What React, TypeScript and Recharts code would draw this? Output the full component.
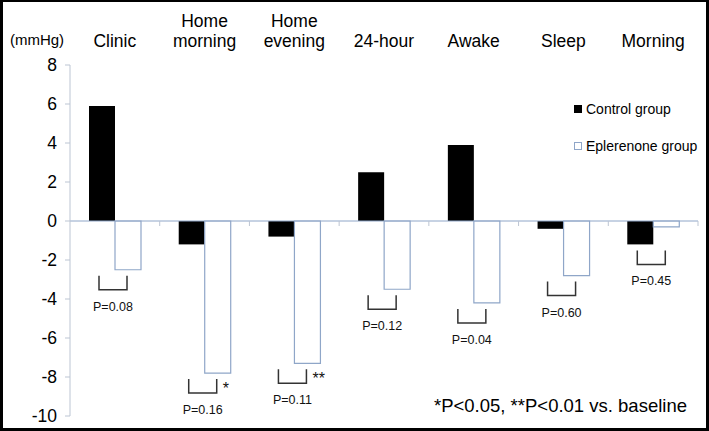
import { BarChart, Bar, XAxis, YAxis, ReferenceLine, Legend, LabelList } from "recharts";

// change from baseline, mmHg
const categories = ["Clinic", "Home morning", "Home evening", "24-hour", "Awake", "Sleep", "Morning"];
const controlChange = [5.9, -1.2, -0.8, 2.5, 3.9, -0.4, -1.2];
const eplerenoneChange = [-2.5, -7.8, -7.3, -3.5, -4.2, -2.8, -0.3];
const pValues = ["0.08", "0.16", "0.11", "0.12", "0.04", "0.60", "0.45"];
const vsBaseline = ["", "*", "**", "", "", "", ""];
const yTicks = [8, 6, 4, 2, 0, -2, -4, -6, -8, -10];

const data = categories.map((name, i) => ({
  name,
  control: controlChange[i],
  eplerenone: eplerenoneChange[i],
  p: pValues[i],
}));

const EP_STROKE = "#8fa6c8";
const AXIS = "#bcc5d3";

// multi-line category labels along the top
function CategoryTick(props: any) {
  const { x, payload } = props;
  const lines = String(payload.value).split(" ");
  return (
    <text x={x} textAnchor="middle" fontSize={17.5} fill="#000">
      {lines.map((ln, k) => (
        <tspan key={k} x={x} y={47 - (lines.length - 1 - k) * 20}>
          {ln}
        </tspan>
      ))}
    </text>
  );
}

function ValueTick(props: any) {
  const { x, y, payload } = props;
  return (
    <text x={x} y={y + 6} textAnchor="end" fontSize={17.5} fill="#000">
      {payload.value}
    </text>
  );
}

// zero line with small tick marks at category boundaries
function ZeroLine(props: any) {
  const { x1, x2, y1 } = props;
  const n = categories.length;
  const step = (x2 - x1) / n;
  return (
    <g>
      <line x1={x1} x2={x2} y1={y1} y2={y1} stroke={EP_STROKE} strokeWidth={1} />
      {categories.map((_, i) => (
        <line key={i} x1={x1 + step * (i + 1)} x2={x1 + step * (i + 1)} y1={y1} y2={y1 + 5} stroke={AXIS} />
      ))}
    </g>
  );
}

// bracket between the two bars with the between-group p value
function Bracket(props: any) {
  const { x, y, width, height, index } = props;
  const ctrl = controlChange[index];
  const ep = eplerenoneChange[index];
  const top = Math.min(y, y + height);
  const ppu = Math.abs(height) / Math.abs(ep);
  const low = Math.min(ctrl, ep, 0);
  const by = top + -low * ppu + 6;
  const bx1 = x - width / 2 - 3;
  const bx2 = x + width / 2 - 1;
  const bottom = by + 14;
  const star = vsBaseline[index];
  return (
    <g>
      <path d={`M${bx1},${by}V${bottom}H${bx2}V${by}`} fill="none" stroke="#333" strokeWidth={1.5} />
      <text x={(bx1 + bx2) / 2} y={bottom + 21} textAnchor="middle" fontSize={12.5} fill="#111">
        {`P=${pValues[index]}`}
      </text>
      {star && (
        <text x={bx2 + 6} y={by + 15} fontSize={16} fill="#111">
          {star}
        </text>
      )}
    </g>
  );
}

function LegendBox() {
  const items = [
    { label: "Control group", fill: "#000", border: "#000" },
    { label: "Eplerenone group", fill: "#fff", border: EP_STROKE },
  ];
  return (
    <div>
      {items.map((it) => (
        <div key={it.label} style={{ display: "flex", alignItems: "center", height: 37, fontSize: 14, color: "#000" }}>
          <span
            style={{
              display: "inline-block",
              width: 8,
              height: 8,
              boxSizing: "border-box",
              background: it.fill,
              border: `1px solid ${it.border}`,
              marginRight: 4,
            }}
          />
          {it.label}
        </div>
      ))}
    </div>
  );
}

export default function App() {
  return (
    <div
      style={{
        position: "absolute",
        left: 0,
        top: 0,
        width: 709,
        height: 431,
        background: "#fff",
        fontFamily: "'Liberation Sans', Arial, sans-serif",
      }}
    >
      <BarChart
        width={709}
        height={431}
        data={data}
        margin={{ top: 15, right: 11, bottom: 15, left: 10 }}
        barCategoryGap={19}
        barGap={0}
      >
        <XAxis
          dataKey="name"
          orientation="top"
          height={50}
          axisLine={false}
          tickLine={false}
          interval={0}
          tick={<CategoryTick />}
        />
        <YAxis
          domain={[-10, 8]}
          ticks={yTicks}
          interval={0}
          width={60}
          tickSize={5}
          tickMargin={8}
          axisLine={{ stroke: AXIS }}
          tickLine={{ stroke: AXIS }}
          tick={<ValueTick />}
        />
        <ReferenceLine y={0} shape={<ZeroLine />} />
        <Legend
          layout="vertical"
          align="center"
          verticalAlign="middle"
          content={<LegendBox />}
          wrapperStyle={{ left: 574, top: 90, width: 130, height: 74 }}
        />
        <Bar dataKey="control" name="Control group" fill="#000" isAnimationActive={false} />
        <Bar
          dataKey="eplerenone"
          name="Eplerenone group"
          fill="#fff"
          stroke={EP_STROKE}
          strokeWidth={1.2}
          isAnimationActive={false}
        >
          <LabelList dataKey="p" content={<Bracket />} />
        </Bar>
        <text x={37} y={45} textAnchor="middle" fontSize={15} fill="#000">
          (mmHg)
        </text>
        <text x={687} y={412} textAnchor="end" fontSize={18.5} fill="#000">
          *P&lt;0.05, **P&lt;0.01 vs. baseline
        </text>
      </BarChart>
      <div
        style={{
          position: "absolute",
          left: 0,
          top: 0,
          width: 709,
          height: 431,
          boxSizing: "border-box",
          border: "3px solid #000",
          borderTopWidth: 2,
          pointerEvents: "none",
        }}
      />
    </div>
  );
}
